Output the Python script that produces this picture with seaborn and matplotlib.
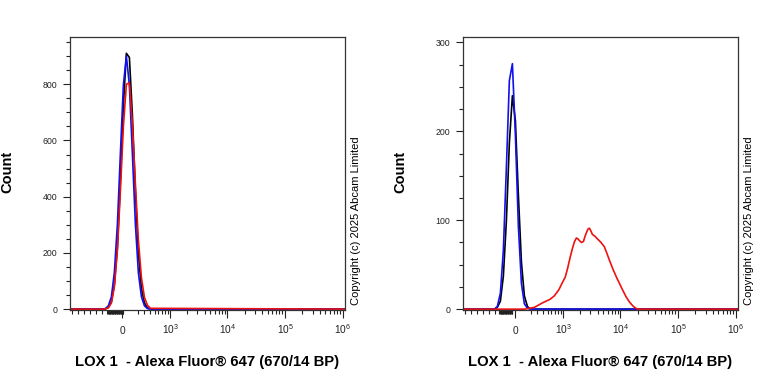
import numpy as np
import matplotlib
matplotlib.use('Agg')
import matplotlib.pyplot as plt
import seaborn as sns

# flow histogram data (x in fluorescence units)
left_x = [-1200, -266, -220, -177, -136, -98, -60, -24, 12, 48, 85, 123, 163, 205, 251, 300, 353, 411, 1100000]
left_blue = [0, 0, 2, 12, 44, 130, 303, 554, 797, 900, 797, 554, 303, 130, 44, 12, 2, 0, 0]
left_black = [0, 0, 1, 6, 26, 86, 222, 455, 725, 910, 895, 691, 419, 200, 74, 22, 5, 1, 0]
left_red = [0, 0, 1, 5, 22, 80, 210, 420, 650, 800, 805, 660, 445, 245, 112, 42, 14, 3, 0]

right_x = [-1200, -283, -236, -191, -150, -110, -73, -36, 0, 36, 73, 110, 150, 191, 1100000]
right_blue = [0, 0, 3, 18, 66, 160, 257, 276, 196, 93, 29, 6, 1, 0, 0]
right_black = [0, 0, 2, 9, 37, 100, 187, 240, 212, 128, 53, 15, 3, 0, 0]

right_red_x = [-1200, 110, 250, 390, 560, 681, 830, 960, 1080, 1182, 1320, 1449, 1580, 1707,
               1820, 1929, 2090, 2268, 2420, 2559, 2720, 2889, 3060, 3256, 3600, 3980, 4600,
               5268, 5800, 6440, 7400, 8520, 9600, 10830, 12500, 14340, 16800, 19700, 1100000]
right_red = [0, 0, 2, 7, 11, 15, 22, 30, 36, 45, 58, 68, 76, 80,
             79, 77, 75, 76, 82, 86, 90, 91, 88, 84, 82, 79, 75,
             70, 63, 55, 45, 36, 29, 22, 14, 8, 3, 0, 0]

x_major = [0, 1e3, 1e4, 1e5, 1e6]
x_major_labels = ['0', '$10^3$', '$10^4$', '$10^5$', '$10^6$']
XLABEL = 'LOX 1  - Alexa Fluor® 647 (670/14 BP)'
COPYRIGHT = 'Copyright (c) 2025 Abcam Limited'

sns.set_style('ticks')
plt.rcParams['font.family'] = ['Liberation Sans', 'DejaVu Sans']
plt.rcParams['mathtext.fontset'] = 'custom'
plt.rcParams['mathtext.rm'] = 'Liberation Sans'
plt.rcParams['mathtext.it'] = 'Liberation Sans'
plt.rcParams['text.color'] = 'black'
plt.rcParams['axes.labelcolor'] = 'black'
plt.rcParams['xtick.color'] = '#222222'
plt.rcParams['ytick.color'] = '#222222'

W = 300.0  # asinh linear width


def style_axis(ax, ymax, ymajor, yminor, blob):
    ax.set_xscale('asinh', linear_width=W)
    ax.set_xlim(-1200, 1.1e6)
    ax.set_ylim(-3 * ymax / 960, ymax)

    # minor ticks on the x axis
    neg = list(-W * np.sinh(np.arange(0.8, 2.05, 0.24)))
    pos = [100 * k for k in range(2, 10)]
    for dec in [1e3, 1e4, 1e5]:
        pos += [dec * k for k in range(2, 10)]
    dense = list(np.arange(blob[0], blob[1], 8))
    ax.set_xticks(x_major)
    ax.set_xticklabels(x_major_labels)
    ax.set_xticks(neg + pos + dense, minor=True)
    ax.set_yticks(ymajor)
    ax.set_yticks(yminor, minor=True)

    ax.tick_params(axis='x', which='major', length=5.5, width=0.8, pad=11.5, labelsize=7.3)
    ax.tick_params(axis='x', which='minor', length=2.8, width=0.8)
    ax.tick_params(axis='y', which='major', length=5, width=0.8, pad=4, labelsize=6.3)
    ax.tick_params(axis='y', which='minor', length=3, width=0.8)
    for lbl in ax.get_xticklabels():
        lbl.set_va('baseline')
    for sp in ax.spines.values():
        sp.set_visible(True)
        sp.set_linewidth(0.9)
        sp.set_color('#333333')

    ax.set_xlabel(XLABEL, fontsize=10.7, fontweight='bold')
    ax.xaxis.set_label_coords(0.5, -0.19)
    ax.xaxis.label.set_va('center')
    ax.set_ylabel('Count', fontsize=10.5, fontweight='bold')
    ax.yaxis.set_label_coords(-0.227, 0.505)
    ax.yaxis.label.set_va('center')
    ax.text(1.04, 0.326, COPYRIGHT, transform=ax.transAxes, rotation=90,
            ha='center', va='center', fontsize=8)


fig = plt.figure(figsize=(7.68, 3.84), dpi=100)
ax1 = fig.add_axes([70 / 768, 74 / 384, 275 / 768, 273 / 384])
ax2 = fig.add_axes([463 / 768, 74 / 384, 275 / 768, 273 / 384])

lw = 1.2
sns.lineplot(x=left_x, y=left_black, color='black', lw=lw, ax=ax1, estimator=None, sort=False)
sns.lineplot(x=left_x, y=left_blue, color='#1010f0', lw=lw, ax=ax1, estimator=None, sort=False)
sns.lineplot(x=left_x, y=left_red, color='#ee1111', lw=lw, ax=ax1, estimator=None, sort=False)

sns.lineplot(x=right_x, y=right_black, color='black', lw=lw, ax=ax2, estimator=None, sort=False)
sns.lineplot(x=right_x, y=right_blue, color='#1010f0', lw=lw, ax=ax2, estimator=None, sort=False)
sns.lineplot(x=right_red_x, y=right_red, color='#ee1111', lw=lw, ax=ax2, estimator=None, sort=False)

style_axis(ax1, 968, [0, 200, 400, 600, 800], [50, 100, 150, 250, 300, 350, 450, 500, 550, 650, 700, 750, 850, 900, 950],
           (-190, 14))
style_axis(ax2, 306, [0, 100, 200, 300], [25, 50, 75, 125, 150, 175, 225, 250, 275],
           (-205, -35))

fig.savefig('out.png', dpi=100)
